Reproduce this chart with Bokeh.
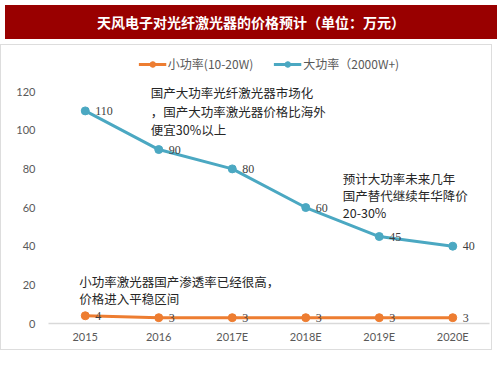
from bokeh.plotting import figure
from bokeh.models import (ColumnDataSource, FactorRange, Range1d, FixedTicker, Label,
                          Legend, LegendItem, Div, LabelSet)
from bokeh.layouts import column
from bokeh.embed import file_html
from bokeh.resources import INLINE

# ---- data ----
years = ["2015", "2016", "2017E", "2018E", "2019E", "2020E"]
small_power = [4, 3, 3, 3, 3, 3]
high_power = [110, 90, 80, 60, 45, 40]
y_ticks = [0, 20, 40, 60, 80, 100, 120]
title_text = "天风电子对光纤激光器的价格预计（单位：万元）"
series_names = ["小功率(10-20W)", "大功率（2000W+)"]
note1 = ["国产大功率光纤激光器市场化", "，国产大功率激光器价格比海外", "便宜30%以上"]
note2 = ["预计大功率未来几年", "国产替代继续年华降价", "20-30%"]
note3 = ["小功率激光器国产渗透率已经很高，", "价格进入平稳区间"]

ORANGE = "#ED7D31"
BLUE = "#4BA8C2"
CJK = "Noto Sans CJK SC"
NUM = "Lato"
W = 492

src = ColumnDataSource(dict(
    x=years, small=small_power, high=high_power,
    small_lbl=[str(v) for v in small_power],
    high_lbl=[str(v) for v in high_power],
))

p = figure(width=W, height=306, x_range=FactorRange(*years),
           y_range=Range1d(0, 139.7), output_backend="svg",
           toolbar_location=None, min_border_left=47, min_border_right=4,
           min_border_top=8, min_border_bottom=28)
p.outline_line_color = None
p.xgrid.grid_line_color = None
p.ygrid.grid_line_color = None
p.background_fill_color = "white"
p.border_fill_color = "white"

# axes
p.yaxis.ticker = FixedTicker(ticks=y_ticks)
p.yaxis.axis_line_color = None
p.yaxis.major_tick_line_color = None
p.yaxis.minor_tick_line_color = None
p.yaxis.major_tick_out = 0
p.yaxis.minor_tick_out = 0
p.yaxis.major_label_text_color = "#595959"
p.yaxis.major_label_text_font = NUM
p.yaxis.major_label_text_font_size = "11px"
p.yaxis.major_label_standoff = 13

p.xaxis.axis_line_color = "#D9D9D9"
p.xaxis.axis_line_width = 1.5
p.xaxis.major_tick_line_color = None
p.xaxis.minor_tick_line_color = None
p.xaxis.major_tick_out = 0
p.xaxis.minor_tick_out = 0
p.xaxis.major_label_text_color = "#595959"
p.xaxis.major_label_text_font = NUM
p.xaxis.major_label_text_font_size = "11px"
p.xaxis.major_label_standoff = 6

# series
l1 = p.line("x", "small", source=src, line_color=ORANGE, line_width=3)
c1 = p.scatter("x", "small", source=src, marker="circle", size=8,
               fill_color=ORANGE, line_color=ORANGE)
l2 = p.line("x", "high", source=src, line_color=BLUE, line_width=3)
c2 = p.scatter("x", "high", source=src, marker="circle", size=8,
               fill_color=BLUE, line_color=BLUE)

# data labels
for col, lblcol in (("small", "small_lbl"), ("high", "high_lbl")):
    p.add_layout(LabelSet(x="x", y=col, text=lblcol, source=src, x_offset=10,
                          y_offset=0, text_baseline="middle", text_align="left",
                          text_font=NUM, text_font_size="12px",
                          text_color="#404040"))

# notes (one Label per line)
for lines, xx, xo, yy, step in ((note1, 1.5, -8, 119.5, 18.5),
                                (note2, 3.5, 37, 75.1, 17),
                                (note3, 0.5, -6, 21.8, 17)):
    for i, txt in enumerate(lines):
        p.add_layout(Label(x=xx, y=yy, x_offset=xo, y_offset=-i * step, text=txt,
                           text_font=CJK, text_font_size="12.5px",
                           text_color="#262626", text_baseline="middle",
                           text_align="left"))

legend = Legend(items=[LegendItem(label=series_names[0], renderers=[l1, c1]),
                       LegendItem(label=series_names[1], renderers=[l2, c2])],
                location="top_center", orientation="horizontal",
                border_line_color=None, background_fill_alpha=0,
                label_text_font=CJK, label_text_font_size="12px",
                label_text_color="#595959", glyph_width=28, glyph_height=14,
                label_standoff=2, spacing=20, margin=2, padding=2)
p.add_layout(legend)
p.styles = {"border": "1px solid #DDDDDD"}

title = Div(text=f'<div style="width:{W}px;height:34px;line-height:34px;'
                 f'background:#990000;color:white;font-weight:bold;font-size:14px;'
                 f'text-align:center;font-family:\'{CJK}\';">{title_text}</div>',
            width=W, height=34)

layout = column(title, p, spacing=0)
open("out.html", "w").write(file_html(layout, INLINE))
